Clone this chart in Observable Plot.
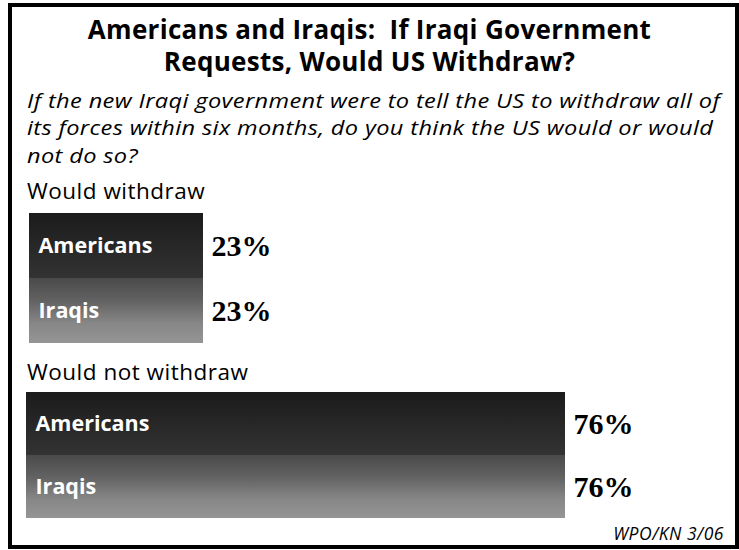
<!DOCTYPE html>
<html><head><meta charset="utf-8">
<script src="https://cdn.jsdelivr.net/npm/d3@7"></script>
<script src="https://cdn.jsdelivr.net/npm/@observablehq/plot@0.6"></script>
<style>
body{margin:0;background:#fff;width:739px;height:550px;position:relative;overflow:hidden;font-family:"Open Sans",sans-serif;color:#000;}
#frame{position:absolute;left:8px;top:3px;width:731px;height:546px;box-sizing:border-box;border:4px solid #000;}
.t{position:absolute;white-space:nowrap;}
#title{left:0;width:739px;text-align:center;top:12.7px;font-weight:bold;font-size:26px;line-height:32.5px;letter-spacing:0.3px;}
#sub{left:27px;top:86.7px;font-style:italic;font-size:20px;line-height:27.6px;letter-spacing:0.3px;transform:scaleX(1.18);transform-origin:0 0;}
.grp{left:27px;font-size:22.5px;line-height:24px;letter-spacing:0.5px;}
#g1{top:178.5px;}
#g2{top:359.8px;}
#cap{right:15px;top:524.2px;font-style:italic;font-size:17.5px;line-height:18px;letter-spacing:0.5px;}
#p1{position:absolute;left:0;top:205px;}
#p2{position:absolute;left:0;top:385px;}
</style></head>
<body>
<div id="frame"></div>
<div class="t" id="title">Americans and Iraqis:&nbsp; If Iraqi Government<br>Requests, Would US Withdraw?</div>
<div class="t" id="sub">If the new Iraqi government were to tell the US to withdraw all of<br>its forces within six months, do you think the US would or would<br>not do so?</div>
<div class="t grp" id="g1"></div>
<div class="t grp" id="g2"></div>
<div class="t" id="cap"></div>
<div id="p1"></div>
<div id="p2"></div>
<script>
const groups = ["Would withdraw", "Would not withdraw"];
const respondents = ["Americans", "Iraqis"];
const withdrawValues = [23, 23];
const notWithdrawValues = [76, 76];
const caption = "WPO/KN 3/06";

document.getElementById("g1").textContent = groups[0];
document.getElementById("g2").textContent = groups[1];
document.getElementById("cap").textContent = caption;

function makeBars(values, uid, height, xRange, yRange) {
  const data = respondents.map((r, i) => ({who: r, value: values[i]}));
  const defs = () => {
    const d = d3.create("svg:defs");
    const a = d.append("linearGradient").attr("id", uid + "Americans")
      .attr("x1", 0).attr("y1", 0).attr("x2", 0).attr("y2", 1);
    a.append("stop").attr("offset", 0).attr("stop-color", "#1b1b1b");
    a.append("stop").attr("offset", 1).attr("stop-color", "#333333");
    const b = d.append("linearGradient").attr("id", uid + "Iraqis")
      .attr("x1", 0).attr("y1", 0).attr("x2", 0).attr("y2", 1);
    b.append("stop").attr("offset", 0).attr("stop-color", "#4a4a4a");
    b.append("stop").attr("offset", 0.35).attr("stop-color", "#626262");
    b.append("stop").attr("offset", 0.7).attr("stop-color", "#878787");
    b.append("stop").attr("offset", 1).attr("stop-color", "#959595");
    return d.node();
  };
  return Plot.plot({
    width: 739, height, margin: 0,
    x: {domain: [0, 100], range: xRange, axis: null},
    y: {domain: respondents, range: yRange, padding: 0, axis: null},
    color: {type: "identity"},
    style: {overflow: "visible", background: "transparent"},
    marks: [
      defs,
      Plot.barX(data, {x: "value", y: "who", fill: d => `url(#${uid}${d.who})`, insetTop: 0, insetBottom: 0}),
      Plot.text(data, {x: d => 0, y: "who", text: "who", dx: 9, textAnchor: "start", fill: "white",
        fontWeight: "bold", fontSize: 21.5, fontFamily: "Open Sans, sans-serif"}),
      Plot.text(data, {x: "value", y: "who", text: d => d.value + "%", dx: 8, textAnchor: "start", fill: "black",
        fontWeight: "bold", fontSize: 30, fontFamily: "Liberation Serif, serif"})
    ]
  });
}

document.getElementById("p1").append(makeBars(withdrawValues, "w1", 145, [29, 29 + 174 * 100 / 23], [8, 138]));
document.getElementById("p2").append(makeBars(notWithdrawValues, "w2", 140, [26, 26 + 539 * 100 / 76], [7, 133]));
</script>
</body></html>
